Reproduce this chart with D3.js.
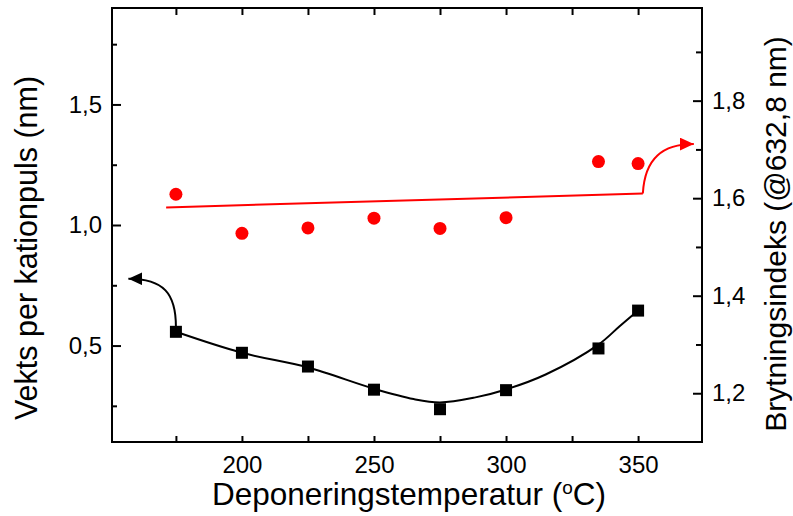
<!DOCTYPE html>
<html>
<head>
<meta charset="utf-8">
<script src="https://cdn.jsdelivr.net/npm/d3@7"></script>
<style>
  html, body { margin: 0; padding: 0; background: #fff; }
  svg { display: block; font-family: "Liberation Sans", Arial, sans-serif; }
</style>
</head>
<body>
<svg id="chart" width="793" height="516"></svg>
<script>
// Deposition temperature (°C)
const temps = [175, 200, 225, 250, 275, 300, 335, 350];
// Growth per cation pulse (nm), left axis
const weightPerPulse = [0.557, 0.470, 0.413, 0.317, 0.236, 0.315, 0.488, 0.645];
// Refractive index at 632.8 nm, right axis
const refractiveIndex = [1.608, 1.528, 1.539, 1.559, 1.538, 1.560, 1.675, 1.671];

// Smooth guide curve through the growth data
const weightCurveX = [175, 200, 225, 250, 265, 275, 288, 300, 315, 335, 343, 350];
const weightCurveY = [0.557, 0.470, 0.409, 0.321, 0.278, 0.264, 0.284, 0.318, 0.380, 0.504, 0.580, 0.645];

// Straight trend line for the refractive index
const indexLineX = [171.3, 351.8];
const indexLineY = [1.581, 1.6096];

// Axis ticks
const xTicks = [175, 200, 225, 250, 275, 300, 325, 350];
const xLabels = [200, 250, 300, 350];
const leftMajor = [0.5, 1.0, 1.5];
const leftMinor = [0.25, 0.75, 1.25, 1.75];
const rightMajor = [1.2, 1.4, 1.6, 1.8];
const rightMinor = [1.3, 1.5, 1.7, 1.9];

// Arrow tips pointing at the axis each series belongs to
const leftArrowTip = { x: 157, y: 0.777 };
const rightArrowTip = { x: 371.1, y: 1.711 };

const xTitle = "Deponeringstemperatur (";
const yLeftTitle = "Vekts per kationpuls (nm)";
const yRightTitle = "Brytningsindeks (@632,8 nm)";

const svg = d3.select("#chart");
const plot = { left: 112, right: 702, top: 8, bottom: 442 };

const x = d3.scaleLinear().domain([150.8, 374.2]).range([plot.left, plot.right]);
const yL = d3.scaleLinear().domain([0.1, 1.9]).range([plot.bottom, plot.top]);
const yR = d3.scaleLinear().domain([1.1, 1.99]).range([plot.bottom, plot.top]);

const locale = d3.formatLocale({ decimal: ",", thousands: " ", grouping: [3], currency: ["", " kr"] });
const fmt1 = locale.format(".1f");

const tickFont = 24;

function styleAxis(g) {
  g.select(".domain").remove();
  g.selectAll(".tick line").attr("stroke", "#000").attr("stroke-width", 2);
  g.selectAll(".tick text").attr("fill", "#000").attr("font-size", tickFont)
    .attr("font-family", "Liberation Sans, Arial, sans-serif");
}

// Bottom axis
svg.append("g").attr("transform", `translate(0,${plot.bottom})`)
  .call(d3.axisBottom(x).tickValues(xTicks).tickSizeInner(-6).tickSizeOuter(0).tickFormat(""))
  .call(styleAxis);
svg.append("g").attr("transform", `translate(0,${plot.bottom})`)
  .call(d3.axisBottom(x).tickValues(xLabels).tickSizeInner(0).tickSizeOuter(0).tickPadding(14).tickFormat(d3.format("d")))
  .call(styleAxis);

// Top axis (ticks only)
svg.append("g").attr("transform", `translate(0,${plot.top})`)
  .call(d3.axisTop(x).tickValues(xTicks).tickSizeInner(-7).tickSizeOuter(0).tickFormat(""))
  .call(styleAxis);

// Left axis
svg.append("g").attr("transform", `translate(${plot.left},0)`)
  .call(d3.axisLeft(yL).tickValues(leftMinor).tickSizeInner(-5).tickSizeOuter(0).tickFormat(""))
  .call(styleAxis);
svg.append("g").attr("transform", `translate(${plot.left},0)`)
  .call(d3.axisLeft(yL).tickValues(leftMajor).tickSizeInner(-9).tickSizeOuter(0).tickPadding(10).tickFormat(fmt1))
  .call(styleAxis);

// Right axis
svg.append("g").attr("transform", `translate(${plot.right},0)`)
  .call(d3.axisRight(yR).tickValues(rightMinor).tickSizeInner(-6).tickSizeOuter(0).tickFormat(""))
  .call(styleAxis);
svg.append("g").attr("transform", `translate(${plot.right},0)`)
  .call(d3.axisRight(yR).tickValues(rightMajor).tickSizeInner(-9).tickSizeOuter(0).tickPadding(10).tickFormat(fmt1))
  .call(styleAxis);

// Frame
svg.append("rect")
  .attr("x", plot.left).attr("y", plot.top)
  .attr("width", plot.right - plot.left).attr("height", plot.bottom - plot.top)
  .attr("fill", "none").attr("stroke", "#000").attr("stroke-width", 2);

// Arrow markers
const defs = svg.append("defs");
function marker(id, color) {
  defs.append("marker").attr("id", id)
    .attr("markerUnits", "userSpaceOnUse")
    .attr("viewBox", "0 0 14 13").attr("markerWidth", 14).attr("markerHeight", 13)
    .attr("refX", 14).attr("refY", 6.5).attr("orient", "auto")
    .append("path").attr("d", "M0,0 L14,6.5 L0,13 Z").attr("fill", color);
}
marker("arrowBlack", "#000");
marker("arrowRed", "#ff0000");

const red = "#ff0000";

// Refractive index trend line
const lineR = d3.line().x(d => x(d[0])).y(d => yR(d[1]));
svg.append("path")
  .datum(d3.zip(indexLineX, indexLineY))
  .attr("d", lineR)
  .attr("fill", "none").attr("stroke", red).attr("stroke-width", 2);

// Curved arrow from the end of the trend line to the right axis
{
  const sx = x(indexLineX[1]), sy = yR(indexLineY[1]);
  const tx = x(rightArrowTip.x), ty = yR(rightArrowTip.y);
  const p = d3.path();
  p.moveTo(sx, sy);
  p.bezierCurveTo(sx + 2, ty + 14, sx + 20, ty, tx, ty);
  svg.append("path").attr("d", p.toString())
    .attr("fill", "none").attr("stroke", red).attr("stroke-width", 2)
    .attr("marker-end", "url(#arrowRed)");
}

// Growth guide curve
const lineL = d3.line().x(d => x(d[0])).y(d => yL(d[1])).curve(d3.curveCatmullRom.alpha(0.5));
svg.append("path")
  .datum(d3.zip(weightCurveX, weightCurveY))
  .attr("d", lineL)
  .attr("fill", "none").attr("stroke", "#000").attr("stroke-width", 2);

// Curved arrow from the first growth point to the left axis
{
  const sx = x(temps[0]), sy = yL(weightPerPulse[0]) - 5;
  const tx = x(leftArrowTip.x), ty = yL(leftArrowTip.y);
  const p = d3.path();
  p.moveTo(sx, sy);
  p.bezierCurveTo(sx, ty + 15, sx - 12, ty, tx, ty);
  svg.append("path").attr("d", p.toString())
    .attr("fill", "none").attr("stroke", "#000").attr("stroke-width", 2)
    .attr("marker-end", "url(#arrowBlack)");
}

// Refractive index points
svg.append("g").selectAll("circle")
  .data(d3.zip(temps, refractiveIndex))
  .join("circle")
  .attr("cx", d => x(d[0])).attr("cy", d => yR(d[1]))
  .attr("r", 6.5).attr("fill", red);

// Growth points
const sq = 12;
svg.append("g").selectAll("rect")
  .data(d3.zip(temps, weightPerPulse))
  .join("rect")
  .attr("x", d => x(d[0]) - sq / 2).attr("y", d => yL(d[1]) - sq / 2)
  .attr("width", sq).attr("height", sq).attr("fill", "#000");

// Axis titles
const xt = svg.append("text")
  .attr("x", (plot.left + plot.right) / 2 + 2).attr("y", 505)
  .attr("text-anchor", "middle").attr("font-size", 31.5).attr("fill", "#000");
xt.append("tspan").text(xTitle);
xt.append("tspan").attr("font-size", 19).attr("dy", -11).text("o");
xt.append("tspan").attr("dy", 11).text("C)");

svg.append("text")
  .attr("transform", "translate(37,248) rotate(-90)")
  .attr("text-anchor", "middle").attr("font-size", 30.5).attr("fill", "#000")
  .text(yLeftTitle);

svg.append("text")
  .attr("transform", "translate(786,234) rotate(-90)")
  .attr("text-anchor", "middle").attr("font-size", 30).attr("fill", "#000")
  .text(yRightTitle);
</script>
</body>
</html>
